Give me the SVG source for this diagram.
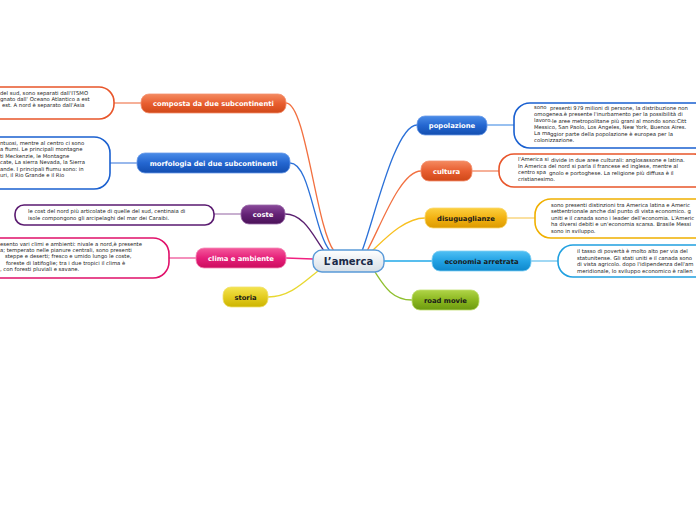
<svg xmlns="http://www.w3.org/2000/svg" width="696" height="520" viewBox="0 0 696 520">
<defs>
<linearGradient id="gOr" x1="0" y1="0" x2="0" y2="1"><stop offset="0" stop-color="#f48a60"/><stop offset="0.5" stop-color="#e85e30"/><stop offset="1" stop-color="#d04818"/></linearGradient>
<linearGradient id="gBl" x1="0" y1="0" x2="0" y2="1"><stop offset="0" stop-color="#4a8ce8"/><stop offset="0.5" stop-color="#2466d0"/><stop offset="1" stop-color="#134eb0"/></linearGradient>
<linearGradient id="gPu" x1="0" y1="0" x2="0" y2="1"><stop offset="0" stop-color="#8a4a9a"/><stop offset="0.5" stop-color="#642276"/><stop offset="1" stop-color="#4a1258"/></linearGradient>
<linearGradient id="gPk" x1="0" y1="0" x2="0" y2="1"><stop offset="0" stop-color="#f45a9c"/><stop offset="0.5" stop-color="#e6207a"/><stop offset="1" stop-color="#cc0c5e"/></linearGradient>
<linearGradient id="gYe" x1="0" y1="0" x2="0" y2="1"><stop offset="0" stop-color="#f4e450"/><stop offset="0.5" stop-color="#e4cc20"/><stop offset="1" stop-color="#ccb400"/></linearGradient>
<linearGradient id="gGo" x1="0" y1="0" x2="0" y2="1"><stop offset="0" stop-color="#fcd040"/><stop offset="0.5" stop-color="#f2b212"/><stop offset="1" stop-color="#dc9a00"/></linearGradient>
<linearGradient id="gSk" x1="0" y1="0" x2="0" y2="1"><stop offset="0" stop-color="#50c0f4"/><stop offset="0.5" stop-color="#22a2e4"/><stop offset="1" stop-color="#0e88cc"/></linearGradient>
<linearGradient id="gGr" x1="0" y1="0" x2="0" y2="1"><stop offset="0" stop-color="#b0d448"/><stop offset="0.5" stop-color="#8cb820"/><stop offset="1" stop-color="#6c9a10"/></linearGradient>
<linearGradient id="gCe" x1="0" y1="0" x2="0" y2="1"><stop offset="0" stop-color="#ffffff"/><stop offset="1" stop-color="#d6dee6"/></linearGradient>
</defs>
<style>
.nt{font-family:"DejaVu Sans",Verdana,sans-serif;font-weight:bold;font-size:6.8px;text-anchor:middle}
.w{fill:#ffffff}
.d{fill:#1a1a1a}
.bt{font-family:"DejaVu Sans",Verdana,sans-serif;font-size:5.3px;fill:#222222}
.box{fill:#ffffff;stroke-width:1.6}
.e{fill:none;stroke-width:1.3}
.l{fill:none;stroke-width:2}
</style>
<g id="connectors">
<path class="e" stroke="#f27040" d="M286 103 C306 103 316 228 334 251"/>
<path class="e" stroke="#2a70d8" d="M290 163 C310 163 314 232 330 251"/>
<path class="e" stroke="#5a2070" d="M285 214 C305 214 314 238 325 252"/>
<path class="e" stroke="#f02080" d="M286 258 L313 259"/>
<path class="e" stroke="#e8d830" d="M268 297 C290 297 304 282 318 271"/>
<path class="e" stroke="#2a70d8" d="M417 125 C395 125 374 220 362 251"/>
<path class="e" stroke="#f27040" d="M421 171 C400 171 380 228 367 251"/>
<path class="e" stroke="#f8c020" d="M425 218 C404 218 384 240 372 251"/>
<path class="e" stroke="#20a8e8" d="M432 261 L384 261"/>
<path class="e" stroke="#90c030" d="M412 300 C392 300 384 286 375 272"/>
<path class="l" stroke="#f6b098" d="M114 103 L141 103"/>
<path class="l" stroke="#98b8ec" d="M110 163 L137 163"/>
<path class="l" stroke="#c8b0d0" d="M214 214 L241 214"/>
<path class="l" stroke="#f490bc" d="M169 258 L196 258"/>
<path class="l" stroke="#98c0f0" d="M487 125 L514 125"/>
<path class="l" stroke="#f6b098" d="M472 171 L499 171"/>
<path class="l" stroke="#fae0a0" d="M507 218 L535 218"/>
<path class="l" stroke="#a0d8f4" d="M531 261 L558 261"/>
</g>
<g id="center">
<rect x="313" y="250" width="71" height="22" rx="9" fill="url(#gCe)" stroke="#5a9ad8" stroke-width="1.4"/>
<text x="348.5" y="264.8" style="font-family:'DejaVu Sans',Verdana,sans-serif;font-weight:bold;font-size:10px;text-anchor:middle;fill:#1a2a48">L’amerca</text>
</g>
<g id="composta">
<rect x="141" y="94" width="145" height="19" rx="8" fill="url(#gOr)" stroke="#f49070" stroke-width="0.8"/>
<text class="nt w" x="213.5" y="106">composta da due subcontinenti</text>
</g>
<g id="composta-note">
<rect class="box" x="-30" y="87" width="144" height="32" rx="15" stroke="#e8552a"/>
<text class="bt" x="0" y="95">del sud, sono separati dall'ITSMO</text>
<text class="bt" x="0" y="101">gnato dall' Oceano Atlantico a est</text>
<text class="bt" x="2" y="107">est. A nord è separato dall'Asia</text>
</g>
<g id="morfologia">
<rect x="137" y="153" width="153" height="20" rx="8" fill="url(#gBl)" stroke="#6a9ae8" stroke-width="0.8"/>
<text class="nt w" x="213.5" y="165.5">morfologia dei due subcontinenti</text>
</g>
<g id="morfologia-note">
<rect class="box" x="-30" y="137" width="140" height="52" rx="16" stroke="#1a60d0"/>
<text class="bt" x="0" y="145">ntuosi, mentre al centro ci sono</text>
<text class="bt" x="0" y="151">a fiumi. Le principali montagne</text>
<text class="bt" x="0" y="157.5">ti Meckenzie, le Montagne</text>
<text class="bt" x="0" y="164">cate, La sierra Nevada, la Sierra</text>
<text class="bt" x="0" y="170.5">ande. I principali fiumu sono: in</text>
<text class="bt" x="0" y="177">uri, il Rio Grande e il Rio</text>
</g>
<g id="coste">
<rect x="241" y="205" width="44" height="19" rx="8" fill="url(#gPu)" stroke="#9a6aaa" stroke-width="0.8"/>
<text class="nt w" x="263" y="217">coste</text>
</g>
<g id="coste-note">
<rect class="box" x="15" y="205" width="199" height="20" rx="9" stroke="#5a1a70"/>
<text class="bt" x="28" y="213">le cost del nord più articolate di quelle del sud, centinaia di</text>
<text class="bt" x="28" y="219.5">isole compongono gli arcipelaghi del mar dei Caraibi.</text>
</g>
<g id="clima">
<rect x="196" y="248" width="90" height="20" rx="8" fill="url(#gPk)" stroke="#f48ab8" stroke-width="0.8"/>
<text class="nt w" x="241" y="260.5">clima e ambiente</text>
</g>
<g id="clima-note">
<rect class="box" x="-30" y="238" width="199" height="40" rx="16" stroke="#e0106a"/>
<text class="bt" x="0" y="246">esento vari climi e ambienti: nivale a nord,è presente</text>
<text class="bt" x="0" y="252">a; temperato nelle pianure centrali, sono presenti</text>
<text class="bt" x="5" y="258">steppe e deserti; fresco e umido lungo le coste,</text>
<text class="bt" x="6" y="264.5">foreste di latifoglie; tra i due tropici il clima è</text>
<text class="bt" x="0" y="271">, con foresti pluviali e savane.</text>
</g>
<g id="storia">
<rect x="223" y="287" width="45" height="20" rx="8" fill="url(#gYe)" stroke="#f0e070" stroke-width="0.8"/>
<text class="nt d" x="245.5" y="299.5">storia</text>
</g>
<g id="popolazione">
<rect x="417" y="116" width="70" height="19" rx="8" fill="url(#gBl)" stroke="#6a9ae8" stroke-width="0.8"/>
<text class="nt w" x="452" y="128">popolazione</text>
</g>
<g id="popolazione-note">
<rect class="box" x="514" y="103" width="200" height="45" rx="16" stroke="#1a60d0"/>
<text class="bt" x="534" y="109">sono</text>
<text class="bt" x="550" y="110">presenti 979 milioni di persone, la distribuzione non</text>
<text class="bt" x="534" y="116">omogenea.è presente l'inurbamento per la possibilità di</text>
<text class="bt" x="534" y="122">lavoro.</text>
<text class="bt" x="552" y="123">le aree metropolitane più grani al mondo sono:Citt</text>
<text class="bt" x="534" y="129">Messico, San Paolo, Los Angeles, New York, Buenos Aires.</text>
<text class="bt" x="534" y="135">La ma</text>
<text class="bt" x="550" y="135.5">ggior parte della popolazione è europea per la</text>
<text class="bt" x="534" y="142">colonizzazione.</text>
</g>
<g id="cultura">
<rect x="421" y="161" width="51" height="20" rx="8" fill="url(#gOr)" stroke="#f49070" stroke-width="0.8"/>
<text class="nt w" x="446.5" y="173.5">cultura</text>
</g>
<g id="cultura-note">
<rect class="box" x="499" y="154" width="210" height="33" rx="15" stroke="#e8552a"/>
<text class="bt" x="518" y="161">l'America si</text>
<text class="bt" x="551" y="162">divide in due aree culturali: anglosassone e latina.</text>
<text class="bt" x="518" y="168">In America del nord si parla il francese ed inglese, mentre al</text>
<text class="bt" x="518" y="174">centro spa</text>
<text class="bt" x="549" y="175">gnolo e portoghese. La religione più diffusa è il</text>
<text class="bt" x="518" y="181">cristianesimo.</text>
</g>
<g id="disuguaglianze">
<rect x="425" y="208" width="82" height="20" rx="8" fill="url(#gGo)" stroke="#fad870" stroke-width="0.8"/>
<text class="nt d" x="466" y="220.5">disuguaglianze</text>
</g>
<g id="disuguaglianze-note">
<rect class="box" x="535" y="199" width="180" height="39" rx="16" stroke="#f0b000"/>
<text class="bt" x="551" y="207">sono presenti distinzioni tra America latina e Americ</text>
<text class="bt" x="551" y="213">settentrionale anche dal punto di vista economico. g</text>
<text class="bt" x="551" y="219.5">uniti e il canada sono i leader dell'economia. L'Americ</text>
<text class="bt" x="551" y="226">ha diversi debiti e un'economia scarsa. Brasile Messi</text>
<text class="bt" x="551" y="232.5">sono in sviluppo.</text>
</g>
<g id="economia">
<rect x="432" y="251" width="99" height="20" rx="8" fill="url(#gSk)" stroke="#80d0f4" stroke-width="0.8"/>
<text class="nt d" x="481.5" y="263.5">economia arretrata</text>
</g>
<g id="economia-note">
<rect class="box" x="558" y="245" width="160" height="32" rx="15" stroke="#20a0e0"/>
<text class="bt" x="577" y="253">il tasso di povertà è molto alto  per via del</text>
<text class="bt" x="577" y="259.5">statunitense. Gli stati uniti e il canada sono</text>
<text class="bt" x="577" y="266">di vista agricolo. dopo l'idipendenza dell'am</text>
<text class="bt" x="577" y="272.5">meridionale, lo sviluppo economico è rallen</text>
</g>
<g id="roadmovie">
<rect x="412" y="290" width="67" height="20" rx="8" fill="url(#gGr)" stroke="#c0e070" stroke-width="0.8"/>
<text class="nt d" x="445.5" y="302.5">road movie</text>
</g>
</svg>
